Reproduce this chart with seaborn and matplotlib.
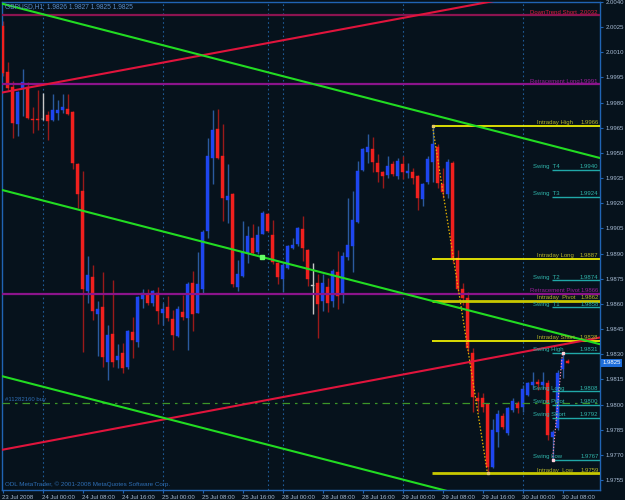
import numpy as np
import pandas as pd
import matplotlib
matplotlib.use("Agg")
import matplotlib.pyplot as plt
import matplotlib.transforms as mtransforms
import seaborn as sns

# ---------------- data ----------------
opens = [2.00257, 1.99984, 1.99894, 1.99674, 1.99888, 1.99894, 1.99704, 1.99704, 1.99700, 1.99728,
         1.99698, 1.99740, 1.99757, 1.99763, 1.99746, 1.99436, 1.99276, 1.98675, 1.98758, 1.98538,
         1.98579, 1.98252, 1.98419, 1.98264, 1.98306, 1.98222, 1.98431, 1.98371, 1.98627, 1.98651,
         1.98603, 1.98663, 1.98544, 1.98579, 1.98508, 1.98407, 1.98550, 1.98514, 1.98722, 1.98544,
         1.98692, 1.99032, 1.99472, 1.99644, 1.99484, 1.99222, 1.99258, 1.98704, 1.98764, 1.98901,
         1.98996, 1.98907, 1.99020, 1.99139, 1.99014, 1.98847, 1.98746, 1.98817, 1.98936, 1.98960,
         1.99049, 1.98924, 1.98710, 1.98722, 1.98615, 1.98704, 1.98615, 1.98788, 1.98657, 1.98877,
         1.98948, 1.99091, 1.99401, 1.99508, 1.99525, 1.99442, 1.99389, 1.99371, 1.99436, 1.99365,
         1.99436, 1.99383, 1.99389, 1.99365, 1.99228, 1.99329, 1.99448, 1.99537, 1.99317, 1.99258,
         1.99440, 1.98871, 1.98692, 1.98633, 1.98306, 1.98038, 1.98038, 1.98002, 1.97627, 1.97836,
         1.97931, 1.97830, 1.97967, 1.98008, 1.97984, 1.98056, 1.98115, 1.98133, 1.98115, 1.98127,
         1.97806, 1.97860, 1.98211, 1.98260]
highs = [2.00287, 2.00043, 1.99930, 1.99871, 2.00001, 1.99924, 1.99775, 1.99876, 1.99859, 1.99752,
         1.99853, 1.99817, 1.99853, 1.99853, 1.99752, 1.99442, 1.99395, 1.98883, 1.98835, 1.98615,
         1.98788, 1.98472, 1.98740, 1.98359, 1.98365, 1.98443, 1.98520, 1.98645, 1.98692, 1.98692,
         1.98681, 1.98699, 1.98603, 1.98645, 1.98562, 1.98585, 1.98651, 1.98728, 1.98794, 1.98907,
         1.99038, 1.99591, 1.99757, 1.99763, 1.99674, 1.99436, 1.99264, 1.98865, 1.99097, 1.99067,
         1.99079, 1.99067, 1.99157, 1.99145, 1.99103, 1.98853, 1.98847, 1.98954, 1.98996, 1.99061,
         1.99127, 1.98930, 1.98847, 1.98776, 1.98776, 1.98752, 1.98806, 1.98913, 1.98907, 1.99234,
         1.99276, 1.99454, 1.99531, 1.99615, 1.99597, 1.99496, 1.99395, 1.99484, 1.99454, 1.99472,
         1.99484, 1.99442, 1.99412, 1.99371, 1.99323, 1.99484, 1.99660, 1.99555, 1.99412, 1.99466,
         1.99454, 1.98919, 1.98722, 1.98669, 1.98335, 1.98074, 1.98068, 1.98008, 1.97913, 1.97967,
         1.97949, 1.97984, 1.98038, 1.98020, 1.98115, 1.98133, 1.98193, 1.98151, 1.98193, 1.98145,
         1.97848, 1.98205, 1.98310, 1.98270]
lows = [1.99960, 1.99876, 1.99591, 1.99603, 1.99722, 1.99704, 1.99621, 1.99638, 1.99698, 1.99579,
        1.99692, 1.99698, 1.99740, 1.99728, 1.99406, 1.99174, 1.98312, 1.98603, 1.98502, 1.98288,
        1.98222, 1.98145, 1.98222, 1.98216, 1.98187, 1.98210, 1.98276, 1.98341, 1.98573, 1.98591,
        1.98585, 1.98478, 1.98472, 1.98496, 1.98324, 1.98401, 1.98502, 1.98324, 1.98437, 1.98544,
        1.98663, 1.98996, 1.99317, 1.99466, 1.99097, 1.99085, 1.98699, 1.98675, 1.98758, 1.98847,
        1.98889, 1.98895, 1.99020, 1.99026, 1.98841, 1.98716, 1.98669, 1.98811, 1.98930, 1.98948,
        1.98859, 1.98710, 1.98538, 1.98395, 1.98556, 1.98550, 1.98579, 1.98567, 1.98603, 1.98865,
        1.98788, 1.99085, 1.99395, 1.99442, 1.99389, 1.99329, 1.99293, 1.99353, 1.99365, 1.99347,
        1.99347, 1.99353, 1.99317, 1.99163, 1.99186, 1.99317, 1.99329, 1.99293, 1.99234, 1.99234,
        1.98847, 1.98669, 1.98591, 1.98312, 1.97955, 1.97955, 1.97955, 1.97590, 1.97621, 1.97747,
        1.97854, 1.97818, 1.97955, 1.97949, 1.97955, 1.98050, 1.98092, 1.98086, 1.98092, 1.97788,
        1.97670, 1.97848, 1.98157, 1.98250]
closes = [1.99978, 1.99888, 1.99680, 1.99865, 1.99924, 1.99710, 1.99698, 1.99698, 1.99700, 1.99692,
          1.99757, 1.99757, 1.99775, 1.99734, 1.99442, 1.99258, 1.98687, 1.98770, 1.98556, 1.98567,
          1.98282, 1.98413, 1.98252, 1.98288, 1.98216, 1.98437, 1.98383, 1.98639, 1.98663, 1.98603,
          1.98675, 1.98556, 1.98567, 1.98514, 1.98413, 1.98567, 1.98520, 1.98716, 1.98538, 1.98716,
          1.99026, 1.99484, 1.99638, 1.99472, 1.99234, 1.99246, 1.98716, 1.98776, 1.98907, 1.99008,
          1.98901, 1.99014, 1.99145, 1.99032, 1.98853, 1.98758, 1.98835, 1.98948, 1.98954, 1.99055,
          1.98936, 1.98746, 1.98710, 1.98597, 1.98722, 1.98603, 1.98794, 1.98645, 1.98883, 1.98954,
          1.99103, 1.99395, 1.99525, 1.99537, 1.99448, 1.99389, 1.99365, 1.99424, 1.99377, 1.99454,
          1.99389, 1.99395, 1.99353, 1.99234, 1.99317, 1.99466, 1.99555, 1.99323, 1.99270, 1.99448,
          1.98871, 1.98692, 1.98633, 1.98335, 1.98044, 1.98020, 1.97984, 1.97627, 1.97848, 1.97943,
          1.97866, 1.97979, 1.98020, 1.97979, 1.98092, 1.98127, 1.98133, 1.98121, 1.98133, 1.97818,
          1.97836, 1.98187, 1.98270, 1.98250]

x_tick_bars = [0, 8, 16, 24, 32, 40, 48, 56, 64, 72, 80, 88, 96, 104, 112]
x_tick_labels = ["23 Jul 2008", "24 Jul 00:00", "24 Jul 08:00", "24 Jul 16:00", "25 Jul 00:00",
                 "25 Jul 08:00", "25 Jul 16:00", "28 Jul 00:00", "28 Jul 08:00", "28 Jul 16:00",
                 "29 Jul 00:00", "29 Jul 08:00", "29 Jul 16:00", "30 Jul 00:00", "30 Jul 08:00"]
y_ticks = [2.0040, 2.0025, 2.0010, 1.9995, 1.9980, 1.9965, 1.9950, 1.9935, 1.9920, 1.9905,
           1.9890, 1.9875, 1.9860, 1.9845, 1.9830, 1.9815, 1.9800, 1.9785, 1.9770, 1.9755]
grid_bars = [8, 32, 53, 56, 80, 104]

# horizontal levels
full_names = ["DownTrend Short", "Retracement Long", "Retracement Pivot"]
full_prices = [2.0032, 1.9991, 1.9866]
intraday_names = ["Intraday High", "Intraday Long", "Intraday  Pivot", "Intraday Short", "Intraday  Low"]
intraday_prices = [1.9966, 1.9887, 1.9862, 1.9838, 1.9759]
swing_names = ["Swing  T4", "Swing  T3", "Swing  T2", "Swing  T1", "Swing High",
               "Swing Long", "Swing Pivot", "Swing Short", "Swing Low"]
swing_prices = [1.9940, 1.9924, 1.9874, 1.9858, 1.9831, 1.9808, 1.9800, 1.9792, 1.9767]
order_price = 1.9801
order_label = "#11282160 buy"

# trend lines (bar index, price)
red_upper_x, red_upper_y = [-0.16, 99.0], [1.9986, 2.0041]
red_lower_x, red_lower_y = [-0.2, 119.5], [1.9773, 1.9840]
green_top_x, green_top_y = [-0.1, 119.5], [2.0039, 1.9947]
green_mid_x, green_mid_y = [-0.16, 119.5], [1.9928, 1.9836]
green_bot_x, green_bot_y = [-0.16, 119.5], [1.9817, 1.9725]
green_point = (51.9, 1.9888)
zigzag_x, zigzag_y = [86, 97], [1.9966, 1.9759]
swing_zig_x, swing_zig_y = [110, 112], [1.9767, 1.9831]

title = "GBPUSD,H1  1.9826 1.9827 1.9825 1.9825"
copyright_txt = "ODL MetaTrader, \u00a9 2001-2008 MetaQuotes Software Corp."
last_price = 1.9825

# ---------------- style ----------------
BG = "#06121C"
sns.set_style("dark", rc={"axes.facecolor": BG, "figure.facecolor": BG,
                          "axes.edgecolor": "#2064B4", "axes.grid": False})
plt.rcParams["font.family"] = ["Liberation Sans", "DejaVu Sans"]

fig = plt.figure(figsize=(6.25, 5.0), dpi=100)
ax = fig.add_axes([2 / 625, 10 / 500, 598 / 625, 488 / 500])
ax.set_facecolor(BG)

df = pd.DataFrame({"o": opens, "h": highs, "l": lows, "c": closes})
df["i"] = np.arange(len(df))
bull = df["c"] > df["o"]
bear = df["c"] < df["o"]
body_col = np.where(bull, "#1E46F0", np.where(bear, "#F0201E", "#C8C8C8"))
wick_col = np.where(bull, "#2A5A9E", np.where(bear, "#9A1A1A", "#C8C8C8"))

ax.vlines(df["i"], df["l"], df["h"], colors=wick_col, lw=1.0, zorder=2)
heights = np.maximum((df["c"] - df["o"]).abs(), 0.00003)
ax.bar(df["i"], heights, bottom=np.minimum(df["o"], df["c"]), width=0.62,
       color=body_col, edgecolor=body_col, lw=0.3, zorder=3)

# vertical separators
for g in grid_bars:
    ax.axvline(g, color="#1E5A96", lw=0.8, ls=(0, (1.5, 2.5)), zorder=1)

# full-width horizontal levels
full_line_colors = ["#8C1450", "#8B148B", "#8B148B"]
full_text_colors = ["#DC1E3C", "#9A1E9A", "#9A1E9A"]
for n, p, lc, tc in zip(full_names, full_prices, full_line_colors, full_text_colors):
    ax.axhline(p, color=lc, lw=1.6, zorder=4)
    ax.text(105.6, p + 0.00004, n, color=tc, fontsize=4.3, va="bottom", ha="left", zorder=7)
    ax.text(119.2, p + 0.00004, f"{p:.4f}", color=tc, fontsize=4.3, va="bottom", ha="right", zorder=7)

# order line
ax.axhline(order_price, color="#3C9628", lw=0.9, ls=(0, (6, 4, 2, 4)), zorder=4)
ax.text(0.5, order_price + 0.00004, order_label, color="#2E6EB4", fontsize=4.3,
        va="bottom", ha="left", zorder=7)

# trend lines via seaborn
for xs, ys, col in [(red_upper_x, red_upper_y, "#E0143C"), (red_lower_x, red_lower_y, "#E0143C"),
                    (green_top_x, green_top_y, "#22DC22"), (green_mid_x, green_mid_y, "#22DC22"),
                    (green_bot_x, green_bot_y, "#22DC22")]:
    sns.lineplot(x=xs, y=ys, color=col, lw=1.5, ax=ax, zorder=5, legend=False)
ax.plot([green_point[0]], [green_point[1]], marker="s", ms=3, color="#66FF66", zorder=6)

# intraday levels
intra_line_colors = ["#FFFF00", "#FFFF00", "#C8C800", "#FFFF00", "#C8C800"]
intra_lw = [1.2, 1.2, 2.0, 1.2, 2.0]
for n, p, lc, lw in zip(intraday_names, intraday_prices, intra_line_colors, intra_lw):
    ax.hlines(p, 85.9, 119.5, color=lc, lw=lw, zorder=4)
    ax.text(106.9, p + 0.00004, n, color="#B4B428", fontsize=4.3, va="bottom", ha="left", zorder=7)
    ax.text(119.2, p + 0.00004, f"{p:.4f}", color="#B4B428", fontsize=4.3, va="bottom", ha="right", zorder=7)

# swing levels
for n, p in zip(swing_names, swing_prices):
    ax.hlines(p, 109.9, 119.5, color="#20A8A8", lw=1.0, zorder=4)
    ax.text(106.1, p + 0.00004, n, color="#30B4AA", fontsize=4.3, va="bottom", ha="left", zorder=7)
    ax.text(119.2, p + 0.00004, f"{p:.4f}", color="#30B4AA", fontsize=4.3, va="bottom", ha="right", zorder=7)

# zigzags
ax.plot(zigzag_x, zigzag_y, color="#E6B400", lw=0.9, ls=(0, (1.2, 1.5)), zorder=6)
ax.plot(zigzag_x, zigzag_y, ls="none", marker="s", ms=2, color="#E6C864", zorder=6)
ax.plot(swing_zig_x, swing_zig_y, color="#FF8CB4", lw=0.8, ls=(0, (1.2, 1.5)), zorder=6)
ax.plot(swing_zig_x, swing_zig_y, ls="none", marker="s", ms=2, color="#FFD2DC", zorder=6)

# axes
ax.set_xlim(-0.1, 119.5)
ax.set_ylim(1.97491, 2.00394)
ax.yaxis.tick_right()
ax.set_yticks(y_ticks)
ax.set_yticklabels([f"{v:.4f}" for v in y_ticks])
ax.set_xticks(x_tick_bars)
ax.set_xticklabels(x_tick_labels)
for lab in ax.get_xticklabels():
    lab.set_ha("left")
ax.tick_params(axis="y", right=True, length=2.5, width=0.8, color="#2064B4",
               labelsize=4.3, labelcolor="#A8BCD4", pad=1.5)
ax.tick_params(axis="x", bottom=True, length=2.5, width=0.8, color="#2064B4",
               labelsize=4.3, labelcolor="#A8BCD4", pad=1.0)
for s in ax.spines.values():
    s.set_color("#2064B4")
    s.set_linewidth(1.0)
ax.set_xlabel("")
ax.set_ylabel("")

# current price box
trans = mtransforms.blended_transform_factory(ax.transAxes, ax.transData)
ax.text(1.004, last_price, f"{last_price:.4f}", transform=trans, color="white", fontsize=4.3,
        va="center", ha="left", zorder=8,
        bbox=dict(facecolor="#1E6EDC", edgecolor="none", pad=1.0), clip_on=False)

fig.text(5 / 625, 1 - 6.5 / 500, title, color="#5A8CC8", fontsize=4.8, va="center", ha="left")
fig.text(5 / 625, 1 - 484 / 500, copyright_txt, color="#2E6EB4", fontsize=4.5, va="center", ha="left")

fig.savefig("out.png", dpi=100, facecolor=BG)
